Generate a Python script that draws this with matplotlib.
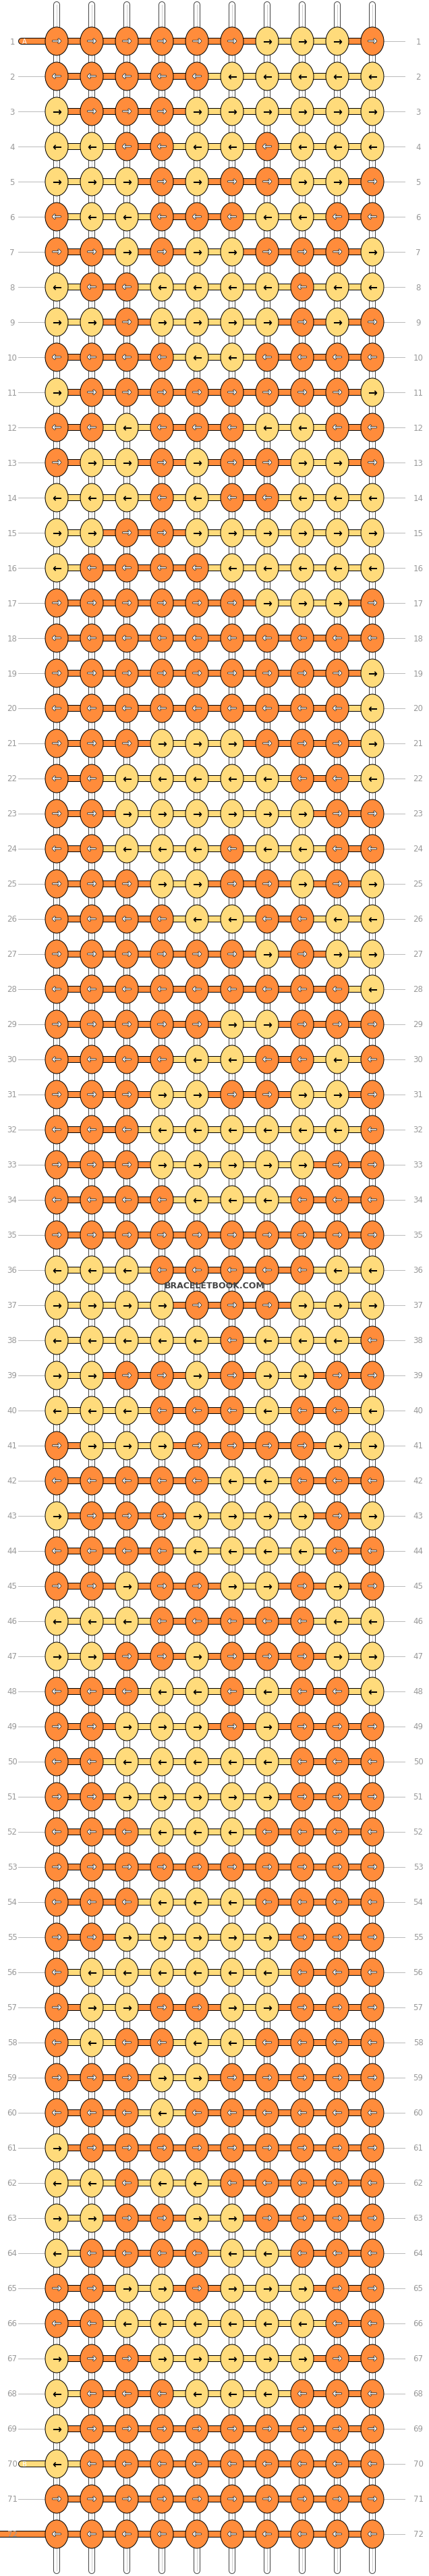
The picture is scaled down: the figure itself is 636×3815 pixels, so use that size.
import matplotlib
matplotlib.use("Agg")
import matplotlib.pyplot as plt
import matplotlib.patheffects as pe
from matplotlib.patches import Ellipse

rows = [
"OOOOOOYYYO","OOOOOYYYYY","YOOOYYYYYY","YYOOYYOYYY","YYYOYOOYYO",
"OYYOOOYYOO","OOYOYYOOOY","YOOYYYYOYY","YYOYYYYOYO","OOOOYYOOOO",
"YOOOOOOOOY","OOYOOOYYOO","OYYOYOOYYO","YYYOYOOYYY","YYOOYYYYYY",
"YOOOOYYYYY","OOOOOOYYYO","OOOOOOOOOO","OOOOOOOOOY","OOOOOOOOOY",
"OOOYYYOOOY","OOYYYYYOOY","OOYYYYYYOO","OOYYYOYYOO","OOOYYOOYOY",
"OOOOYYOOYY","OOOOOOYOYY","OOOOOOOOOY","OOOOOYYOOO","OOOOYYOOYO",
"OOOYYOOYYO","OOOYYYYYYO","OOOYYYYYOO","OOOOYYYOOO","OOOOOOOOOO",
"YYYOOOOOYY","YYYYOOOYYY","YYYYYOYYYO","YYOOYOYYOO","YYYOOOYOOY",
"OYYYOOOOYY","OOOOOYYOOO","YOOOYYYYOY","OOOOYYYYOO","OOYOOYYOYO",
"YYYOOOOOYY","YYOOYOOOYY","OOOYYOYOOY","OOYYYOYOOO","OOYYYYYOOO",
"OOYYYYYOOO","OOOYYYOOOO","OOOOOOOOOO","OOOYYYOOOO","OOYYYYYOOO",
"OYYYYYYOOO","OYYOOYYOOO","OYOOYYOOOO","OOOYYOOOOO","OOOYOOOOOO",
"YOOOOOOOOO","YYOYYOOOOO","YYOOYYOOOO","YOOOOYYOOO","OOYYOYYYOO",
"OOYYYYYYOO","YOOYYYYYOO","YOOOYYYOOO","YOOOOOOOOO","YOOOOOOOOO",
"OOOOOOOOOO","OOOOOOOOOO",
]
row_labels = [str(i + 1) for i in range(len(rows))]
colors = {"O": "#FF8C3B", "Y": "#FFDB7B"}

W, H = 636, 3816
fig = plt.figure(figsize=(W / 100, H / 100), dpi=100)
ax = fig.add_axes([0, 0, 1, 1])
ax.set_xlim(0, W)
ax.set_ylim(H, 0)
ax.axis("off")

x0, dx, y0, dy = 84, 52, 62, 52
ncol = len(rows[0])
px = 0.72

for c in range(ncol):
    x = x0 + c * dx
    ax.plot([x, x], [8, H - 8], color="#444444", lw=10 * px, solid_capstyle="round", zorder=1)
    ax.plot([x, x], [8, H - 8], color="white", lw=8 * px, solid_capstyle="round", zorder=1.1)
    ax.plot([x, x], [8, H - 8], color="#cccccc", lw=1 * px, zorder=1.2)

for r, row in enumerate(rows):
    y = y0 + r * dy
    for c in range(ncol - 1):
        a, b = row[c], row[c + 1]
        col = colors[a] if a == b else colors["O" if r % 2 == 0 else "Y"]
        xa, xb = x0 + c * dx, x0 + (c + 1) * dx
        ax.plot([xa, xb], [y, y], color="black", lw=10 * px, solid_capstyle="butt", zorder=2)
        ax.plot([xa, xb], [y, y], color=col, lw=8 * px, solid_capstyle="butt", zorder=2.1)
    for c, k in enumerate(row):
        x = x0 + c * dx
        ax.add_patch(Ellipse((x, y), 34, 42, facecolor=colors[k], edgecolor="black",
                             lw=1 * px, zorder=3))
        arrow = "→" if r % 2 == 0 else "←"
        if k == "O":
            ax.text(x, y, arrow, color="white", fontsize=12, ha="center",
                    va="center", zorder=4, family="DejaVu Sans",
                    path_effects=[pe.withStroke(linewidth=1.2, foreground="#333333")])
        else:
            ax.text(x, y, arrow, color="black", fontsize=12, fontweight="bold", ha="center",
                    va="center", zorder=4, family="DejaVu Sans")
    ax.text(18, y, row_labels[r], color="#999999", fontsize=8.5, ha="center", va="center")
    ax.text(620, y, row_labels[r], color="#999999", fontsize=8.5, ha="center", va="center")
    ax.plot([566, 600], [y, y], color="#bbbbbb", lw=1 * px, zorder=0.5)
    if r not in (0, 69):
        ax.plot([27, 66], [y, y], color="#bbbbbb", lw=1 * px, zorder=0.5)

for r, key, lab in [(0, "O", "A"), (69, "Y", "B")]:
    y = y0 + r * dy
    ax.plot([32, 70], [y, y], color="black", lw=10 * px, solid_capstyle="round", zorder=2)
    ax.plot([32, 70], [y, y], color=colors[key], lw=8 * px, solid_capstyle="round", zorder=2.1)
    ax.text(36, y, lab, color="white", fontsize=7, ha="center", va="center", zorder=2.2)
y = y0 + 71 * dy
ax.plot([0, 70], [y, y], color="black", lw=10 * px, solid_capstyle="butt", zorder=2)
ax.plot([0, 70], [y, y], color=colors["O"], lw=8 * px, solid_capstyle="butt", zorder=2.1)

ax.text(318, 1905, "BRACELETBOOK.COM", color="#444444", fontsize=9, fontweight="bold",
        ha="center", va="center", zorder=5)

fig.savefig("out.png", dpi=100)
